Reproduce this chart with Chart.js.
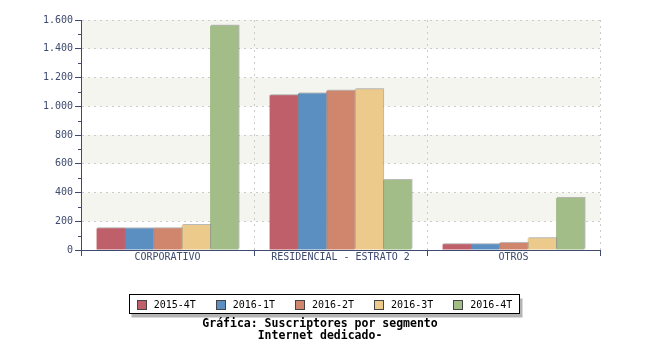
<!DOCTYPE html>
<html>
<head>
<meta charset="utf-8">
<script src="https://cdn.jsdelivr.net/npm/chart.js@4"></script>
<style>
    body { margin: 0; background: #fff; }
    #wrap { width: 650px; height: 350px; }
</style>
</head>
<body>
<div id="wrap"><canvas id="chart"></canvas></div>
<script>
// categories and series
const categories = ['CORPORATIVO', 'RESIDENCIAL - ESTRATO 2', 'OTROS'];
const seriesLabels = ['2015-4T', '2016-1T', '2016-2T', '2016-3T', '2016-4T'];
const s2015_4T = [151, 1076, 40];
const s2016_1T = [150, 1088, 40];
const s2016_2T = [151, 1108, 49];
const s2016_3T = [174, 1118, 82];
const s2016_4T = [1560, 487, 362];
const yTicks = [0, 200, 400, 600, 800, 1000, 1200, 1400, 1600];
const titleLines = ['Gráfica: Suscriptores por segmento', 'Internet dedicado-'];

const colors = ['#bf5f6a', '#5b8fc2', '#d0866d', '#ebca8c', '#a3bd89'];
const axisColor = '#3e4a6e';
const mono = "'DejaVu Sans Mono', monospace";

// grey bands behind the plot, every other 200 step
const bandsPlugin = {
    id: 'bands',
    beforeDraw: function (chart) {
        let ctx = chart.ctx;
        let y = chart.scales.y;
        let area = chart.chartArea;
        ctx.save();
        ctx.fillStyle = '#f5f5f0';
        for (let i = 1; i < yTicks.length - 1; i += 2) {
            let top = y.getPixelForValue(yTicks[i + 1]);
            let bottom = y.getPixelForValue(yTicks[i]);
            ctx.fillRect(area.left, top, area.right - area.left, bottom - top);
        }
        ctx.restore();
    }
};

// little drop shadow on bars (top and right)
const shadowPlugin = {
    id: 'barShadow',
    beforeDatasetsDraw: function (chart) {
        let ctx = chart.ctx;
        ctx.save();
        ctx.shadowColor = 'rgba(130, 130, 130, 0.55)';
        ctx.shadowOffsetX = 1;
        ctx.shadowOffsetY = -1;
        ctx.shadowBlur = 0;
    },
    afterDatasetsDraw: function (chart) {
        chart.ctx.restore();
    }
};

// minor ticks, legend box and title at the bottom
const extrasPlugin = {
    id: 'extras',
    afterDraw: function (chart) {
        let ctx = chart.ctx;
        let y = chart.scales.y;
        let area = chart.chartArea;

        ctx.save();
        ctx.strokeStyle = axisColor;
        ctx.lineWidth = 1;
        for (let i = 0; i < yTicks.length - 1; i++) {
            let py = Math.round(y.getPixelForValue((yTicks[i] + yTicks[i + 1]) / 2)) + 0.5;
            ctx.beginPath();
            ctx.moveTo(area.left - 3, py);
            ctx.lineTo(area.left, py);
            ctx.stroke();
        }

        // legend
        ctx.font = '10px ' + mono;
        let sw = 9, gap = 8, itemGap = 20;
        let widths = chart.data.datasets.map(d => ctx.measureText(d.label).width);
        let total = widths.reduce((a, b) => a + b, 0) + chart.data.datasets.length * (sw + gap) + (chart.data.datasets.length - 1) * itemGap;
        let boxL = 129.5, boxR = 519.5, boxT = 294.5, boxB = 313.5;
        ctx.fillStyle = '#b4b4b4';
        ctx.fillRect(boxL + 2, boxT + 4, boxR - boxL + 1, boxB - boxT);
        ctx.fillStyle = '#ffffff';
        ctx.fillRect(boxL, boxT, boxR - boxL, boxB - boxT);
        ctx.strokeStyle = '#000000';
        ctx.strokeRect(boxL, boxT, boxR - boxL, boxB - boxT);

        let x = (boxL + boxR) / 2 - total / 2;
        let cy = (boxT + boxB) / 2;
        ctx.textBaseline = 'middle';
        ctx.textAlign = 'left';
        chart.data.datasets.forEach(function (d, i) {
            ctx.fillStyle = d.backgroundColor;
            ctx.fillRect(Math.round(x) + 0.5, Math.round(cy - sw / 2) + 0.5, sw, sw);
            ctx.strokeStyle = '#444';
            ctx.strokeRect(Math.round(x) + 0.5, Math.round(cy - sw / 2) + 0.5, sw, sw);
            ctx.fillStyle = '#000';
            ctx.fillText(d.label, x + sw + gap, cy + 1);
            x += sw + gap + widths[i] + itemGap;
        });

        // title
        ctx.font = 'bold 11.5px ' + mono;
        ctx.textAlign = 'center';
        ctx.fillStyle = '#000';
        titleLines.forEach(function (line, i) {
            ctx.fillText(line, 320, 324.5 + i * 12);
        });
        ctx.restore();
    }
};

const seriesValues = [s2015_4T, s2016_1T, s2016_2T, s2016_3T, s2016_4T];

window.addEventListener('load', function () {
    let ctx = document.getElementById('chart').getContext('2d');
    let chart = new Chart(ctx, {
        type: 'bar',
        data: {
            labels: categories,
            datasets: seriesValues.map(function (vals, i) {
                return {
                    label: seriesLabels[i],
                    data: vals,
                    backgroundColor: colors[i],
                    borderWidth: 0,
                    barPercentage: 1,
                    categoryPercentage: 0.82
                };
            })
        },
        options: {
            responsive: true,
            maintainAspectRatio: false,
            animation: false,
            layout: { padding: { top: 20, right: 50, left: 0, bottom: 80 } },
            plugins: {
                legend: { display: false },
                title: { display: false },
                tooltip: { enabled: false }
            },
            scales: {
                x: {
                    afterFit: function (s) { s.height = 20; },
                    grid: {
                        offset: true,
                        color: '#cccccc',
                        tickColor: axisColor,
                        tickLength: 6,
                        tickBorderDash: []
                    },
                    border: { color: axisColor, width: 1, dash: [2, 4] },
                    ticks: {
                        color: axisColor,
                        padding: -5,
                        font: { family: mono, size: 10 }
                    }
                },
                y: {
                    min: 0,
                    max: 1600,
                    afterFit: function (s) { s.width = 81; },
                    afterBuildTicks: function (s) { s.ticks = yTicks.map(v => ({ value: v })); },
                    grid: {
                        color: '#cccccc',
                        tickColor: axisColor,
                        tickLength: 6,
                        tickBorderDash: []
                    },
                    border: { color: axisColor, width: 1, dash: [2, 4] },
                    ticks: {
                        color: axisColor,
                        padding: 2,
                        font: { family: mono, size: 10 },
                        callback: function (v) { return v.toLocaleString('es-ES', { useGrouping: true }).replace(/\s/g, '.'); }
                    }
                }
            }
        },
        plugins: [bandsPlugin, shadowPlugin, extrasPlugin]
    });
});
</script>
</body>
</html>
